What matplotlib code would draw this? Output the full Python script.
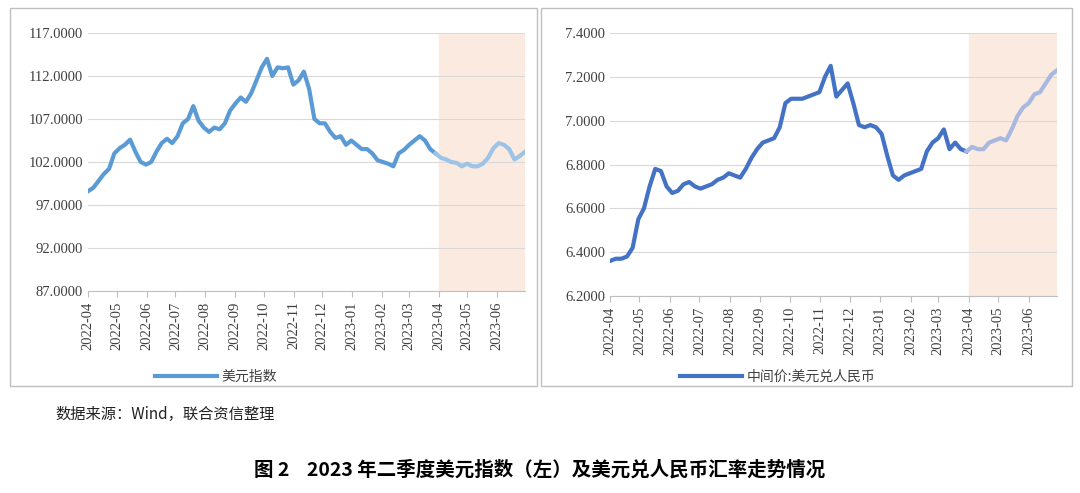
import numpy as np
import pandas as pd
import matplotlib
matplotlib.use("Agg")
import matplotlib.pyplot as plt
import matplotlib.dates as mdates
from matplotlib.patches import Rectangle

plt.rcParams['font.family'] = ['Noto Sans CJK SC', 'DejaVu Sans']

# weekly readings, 2022-04 .. 2023-06
dxy = [98.6, 99.0, 99.8, 100.6, 101.2, 103.0,
       103.6, 104.0, 104.6, 103.2, 102.0, 101.7,
       102.0, 103.2, 104.2, 104.7, 104.2, 105.0,
       106.5, 107.0, 108.5, 106.8, 106.0, 105.5,
       106.0, 105.8, 106.5, 108.0, 108.8,
       109.5, 109.0, 110.0, 111.5, 113.0, 114.0,
       112.0, 113.0, 112.9, 113.0, 111.0, 111.5,
       112.5, 110.5, 107.0, 106.5, 106.5, 105.5,
       104.8, 105.0, 104.0, 104.5, 104.0, 103.5,
       103.5, 103.0, 102.2, 102.0, 101.8,
       101.5, 103.0, 103.4, 104.0, 104.5,
       105.0, 104.5, 103.5, 103.0, 102.5, 102.3,
       102.0, 101.9, 101.5, 101.8, 101.5,
       101.5, 101.8, 102.5, 103.6, 104.2,
       104.0, 103.5, 102.3, 102.7, 103.2]

cny = [6.36, 6.37, 6.37, 6.38, 6.42, 6.55,
       6.60, 6.70, 6.78, 6.77, 6.70, 6.67,
       6.68, 6.71, 6.72, 6.70, 6.69,
       6.70, 6.71, 6.73, 6.74, 6.76,
       6.75, 6.74, 6.78, 6.83, 6.87,
       6.90, 6.91, 6.92, 6.97, 7.08, 7.10,
       7.10, 7.10, 7.11, 7.12, 7.13,
       7.20, 7.25, 7.11, 7.14, 7.17,
       7.08, 6.98, 6.97, 6.98, 6.97,
       6.94, 6.84, 6.75, 6.73, 6.75,
       6.76, 6.77, 6.78, 6.86, 6.90,
       6.92, 6.96, 6.87, 6.90, 6.87, 6.86,
       6.88, 6.87, 6.87, 6.90, 6.91,
       6.92, 6.91, 6.96, 7.02, 7.06,
       7.08, 7.12, 7.13, 7.17, 7.21, 7.23]

start, end = pd.Timestamp("2022-04-01"), pd.Timestamp("2023-06-30")
cut = pd.Timestamp("2023-04-01")


def dates_for(vals):
    return pd.to_datetime(np.linspace(start.value, end.value, len(vals)))


fig = plt.figure(figsize=(10.8, 4.93), dpi=100)
W, H = 1080, 493

for x0, x1 in [(10, 537), (541, 1072)]:
    fig.patches.append(Rectangle((x0 / W, 1 - 386 / H), (x1 - x0) / W, 378 / H,
                                 transform=fig.transFigure, fill=False,
                                 edgecolor="#bfbfbf", lw=1))

panels = [
    dict(rect=(88, 33, 525, 291), vals=dxy, c1="#5b9bd5", c2="#9dc3e6",
         ylim=(87, 117), yt=np.arange(87, 118, 5), fmt="{:.4f}", label="美元指数",
         lx=0.20),
    dict(rect=(610, 33, 1057, 296), vals=cny, c1="#4472c4", c2="#a9b8e0",
         ylim=(6.2, 7.4), yt=np.arange(6.2, 7.41, 0.2), fmt="{:.4f}",
         label="中间价:美元兑人民币", lx=0.72),
]

for p in panels:
    l, t, r, b = p["rect"]
    ax = fig.add_axes([l / W, 1 - b / H, (r - l) / W, (b - t) / H])
    d = dates_for(p["vals"])
    v = np.array(p["vals"])
    m = d <= cut
    ax.axvspan(cut, end, color="#fbeadf", zorder=0)
    ax.plot(d[m], v[m], color=p["c1"], lw=3, zorder=3, label=p["label"])
    k = max(m.sum() - 1, 0)
    ax.plot(d[k:], v[k:], color=p["c2"], lw=3, zorder=3)
    ax.set_xlim(start, end)
    ax.set_ylim(*p["ylim"])
    ax.set_yticks(p["yt"])
    ax.set_yticklabels([p["fmt"].format(y) for y in p["yt"]], fontsize=10.5,
                       family="Liberation Serif")
    ax.xaxis.set_major_locator(mdates.MonthLocator())
    ax.xaxis.set_major_formatter(mdates.DateFormatter("%Y-%m"))
    for lab in ax.get_xticklabels():
        lab.set_rotation(90)
        lab.set_fontsize(10.5)
        lab.set_family("Liberation Serif")
    ax.grid(axis="y", color="#d9d9d9", lw=0.8)
    for s in ["top", "right", "left"]:
        ax.spines[s].set_visible(False)
    ax.spines["bottom"].set_color("#bfbfbf")
    ax.tick_params(length=0, colors="#404040")
    ax.tick_params(axis="x", length=4, color="#bfbfbf")
    fig.legend(handles=ax.get_lines()[:1], loc="center",
               bbox_to_anchor=(p["lx"], 1 - 377 / H), frameon=False,
               fontsize=10, handlelength=4.5, handletextpad=0.3,
               labelcolor="#404040")

fig.text(55 / W, 1 - 414 / H, "数据来源：Wind，联合资信整理", fontsize=11,
         va="center", color="#222222")
fig.text(0.5, 1 - 470 / H, "图 2    2023 年二季度美元指数（左）及美元兑人民币汇率走势情况",
         fontsize=14, fontweight="bold", ha="center", va="center")

fig.savefig("out.png", dpi=100)
